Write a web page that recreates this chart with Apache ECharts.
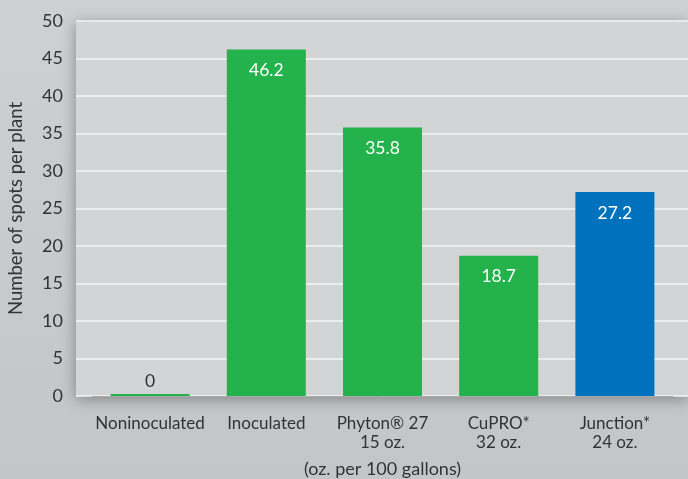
<!DOCTYPE html>
<html><head><meta charset="utf-8">
<script src="https://cdn.jsdelivr.net/npm/echarts@6/dist/echarts.min.js"></script>
<style>html,body{margin:0;padding:0;background:#c6c7ca;}#c{width:688px;height:479px;}</style>
</head><body><div id="c"></div>
<script>
const categories = ['Noninoculated', 'Inoculated', 'Phyton® 27\n15 oz.', 'CuPRO*\n32 oz.', 'Junction*\n24 oz.'];
const values = [0, 46.2, 35.8, 18.7, 27.2];
const barColors = ['#23b24c', '#23b24c', '#23b24c', '#23b24c', '#0071bc'];
const yAxisTitle = 'Number of spots per plant';
const xAxisTitle = '(oz. per 100 gallons)';

const font = 'Lato, "Noto Sans", sans-serif';
const chart = echarts.init(document.getElementById('c'), null, {renderer: 'canvas'});
chart.setOption({
  backgroundColor: {
    type: 'linear', x: 0, y: 0, x2: 0, y2: 1,
    colorStops: [{offset: 0, color: '#cfd0d2'}, {offset: 1, color: '#c4c5c8'}]
  },
  animation: false,
  grid: [
    {left: 76, right: 0, top: 21, bottom: 83, show: true, backgroundColor: '#d3d4d6', borderWidth: 0,
     outerBoundsMode: 'none', containLabel: false,
     shadowColor: 'rgba(0,0,0,0.35)', shadowBlur: 14, shadowOffsetX: 0, shadowOffsetY: 3},
    {left: 92, right: 15, top: 21, bottom: 83, outerBoundsMode: 'none', containLabel: false}
  ],
  xAxis: [
    {gridIndex: 0, type: 'value', show: false, min: 0, max: 1},
    {gridIndex: 1, type: 'category', data: categories,
     axisLine: {show: true, lineStyle: {color: '#a9aaad', width: 1}}, axisTick: {show: false},
     axisLabel: {color: '#333', fontSize: 17, fontFamily: font, margin: 18, lineHeight: 19, interval: 0},
     name: xAxisTitle, nameLocation: 'middle', nameGap: 64,
     nameTextStyle: {color: '#333', fontSize: 18, fontFamily: font}}
  ],
  yAxis: [
    {gridIndex: 0, type: 'value', min: 0, max: 50, interval: 5,
     axisLine: {show: false}, axisTick: {show: false},
     axisLabel: {color: '#333', fontSize: 18, fontFamily: font, margin: 13},
     splitLine: {show: true, lineStyle: {color: '#f4f4f5', width: 1.5}},
     name: yAxisTitle, nameLocation: 'middle', nameGap: 50, nameRotate: 90,
     nameTextStyle: {color: '#333', fontSize: 18.5, fontFamily: font}},
    {gridIndex: 1, type: 'value', min: 0, max: 50, interval: 5, show: false, splitLine: {show: false}}
  ],
  series: [{
    type: 'bar', xAxisIndex: 1, yAxisIndex: 1,
    barWidth: '68%', barMinHeight: 2,
    data: values.map((v, i) => ({
      value: v,
      itemStyle: {color: barColors[i]},
      label: v === 0 ? {position: 'top', color: '#333', distance: 4} : {}
    })),
    label: {show: true, position: 'insideTop', distance: 12, color: '#fff', fontSize: 17.5, fontFamily: font}
  }]
});
</script></body></html>
